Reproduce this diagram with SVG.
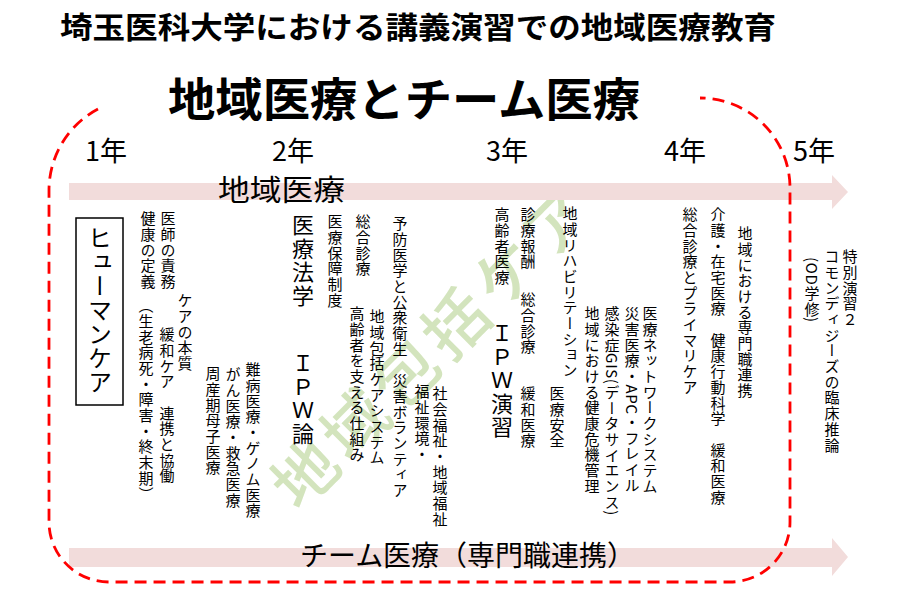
<svg xmlns="http://www.w3.org/2000/svg" width="900" height="600" viewBox="0 0 900 600">
<style>
text{font-family:"Noto Sans CJK JP","Noto Sans",sans-serif;fill:#000}
.v{writing-mode:vertical-rl;font-size:15px;letter-spacing:0.7px}
.vl{writing-mode:vertical-rl;font-size:22px;letter-spacing:1.5px}
.yr{font-size:27px}
.arrow{fill:#f2dcdb}
.wm{font-size:64px;fill:#d3e4bd;font-weight:500;letter-spacing:7px}
</style>
<rect width="900" height="600" fill="#fff"/>
<g id="titles">
<text x="60" y="38" font-size="30" font-weight="bold" textLength="716" lengthAdjust="spacingAndGlyphs">埼玉医科大学における講義演習での地域医療教育</text>
<text x="168" y="116" font-size="46" font-weight="bold" textLength="472" lengthAdjust="spacingAndGlyphs">地域医療とチーム医療</text>
</g>
<g id="watermark">
<text class="wm" transform="translate(305,474) rotate(-45)" x="-32" y="24">地域包括ケア</text>
</g>
<g id="connectors">
<polygon class="arrow" points="69,183 832,183 832,175 848,192 832,209 832,200 69,200"/>
<polygon class="arrow" points="69,548 832,548 832,538 848,557 832,576 832,567 69,567"/>
<path d="M98,109 A92,92 0 0 0 49,190 L49,522 A60,60 0 0 0 109,582 L730,582 A60,60 0 0 0 790,522 L790,188 A90,90 0 0 0 700,98" fill="none" stroke="#ff0000" stroke-width="2.8" stroke-dasharray="12,7"/>
</g>
<g id="years">
<text class="yr" x="85" y="161">1年</text>
<text class="yr" x="272" y="161">2年</text>
<text class="yr" x="486" y="161">3年</text>
<text class="yr" x="664" y="161">4年</text>
<text class="yr" x="793" y="161">5年</text>
</g>
<g id="arrow-labels">
<text x="218" y="201" font-size="29" textLength="127" lengthAdjust="spacingAndGlyphs">地域医療</text>
<text x="300" y="566" font-size="28" textLength="335" lengthAdjust="spacingAndGlyphs">チーム医療（専門職連携）</text>
</g>
<g id="year1">
<rect x="76" y="218" width="47" height="187" fill="none" stroke="#000" stroke-width="1.5"/>
<text x="100" y="226" style="writing-mode:vertical-rl;font-size:24px">ヒューマンケア</text>
<text class="v" x="168" y="211">医師の責務</text>
<text class="v" x="148" y="211">健康の定義</text>
<text class="v" x="146" y="298">（生老病死・障害・終末期）</text>
<text class="v" x="185" y="293">ケアの本質</text>
<text class="v" x="167" y="327">緩和ケア　連携と協働</text>
<text class="v" x="253" y="362">難病医療・ゲノム医療</text>
<text class="v" x="233" y="367">がん医療・救急医療</text>
<text class="v" x="213" y="366">周産期母子医療</text>
</g>
<g id="year2">
<text class="vl" x="303" y="214">医療法学</text>
<text class="vl" x="303" y="352">ＩＰＷ論</text>
<text class="v" x="335" y="214">医療保障制度</text>
<text class="v" x="363" y="214">総合診療</text>
<text class="v" x="357" y="306">高齢者を支える仕組み</text>
<text class="v" x="377" y="309">地域包括ケアシステム</text>
<text class="v" x="400" y="216">予防医学と公衆衛生　災害ボランティア</text>
<text class="v" x="422" y="384">福祉環境・</text>
<text class="v" x="440" y="386">社会福祉・地域福祉</text>
</g>
<g id="year3">
<text class="v" x="502" y="207">高齢者医療</text>
<text class="v" x="528" y="207">診療報酬</text>
<text class="v" x="528" y="292">総合診療</text>
<text class="v" x="528" y="386">緩和医療</text>
<text class="vl" x="502" y="322">ＩＰＷ演習</text>
<text class="v" x="570" y="206">地域リハビリテーション</text>
<text class="v" x="557" y="386">医療安全</text>
<text class="v" x="592" y="306">地域における健康危機管理</text>
<text class="v" x="612" y="306">感染症GIS(データサイエンス)</text>
<text class="v" x="632" y="306">災害医療・APC・フレイル</text>
<text class="v" x="650" y="306">医療ネットワークシステム</text>
</g>
<g id="year4">
<text class="v" x="690" y="207">総合診療とプライマリケア</text>
<text class="v" x="718" y="207">介護・在宅医療　健康行動科学　緩和医療</text>
<text class="v" x="745" y="226">地域における専門職連携</text>
</g>
<g id="year5">
<text class="v" x="850" y="249">特別演習２</text>
<text class="v" x="832" y="249">コモンディジーズの臨床推論</text>
<text class="v" x="812" y="257">(OD学修)</text>
</g>
</svg>
